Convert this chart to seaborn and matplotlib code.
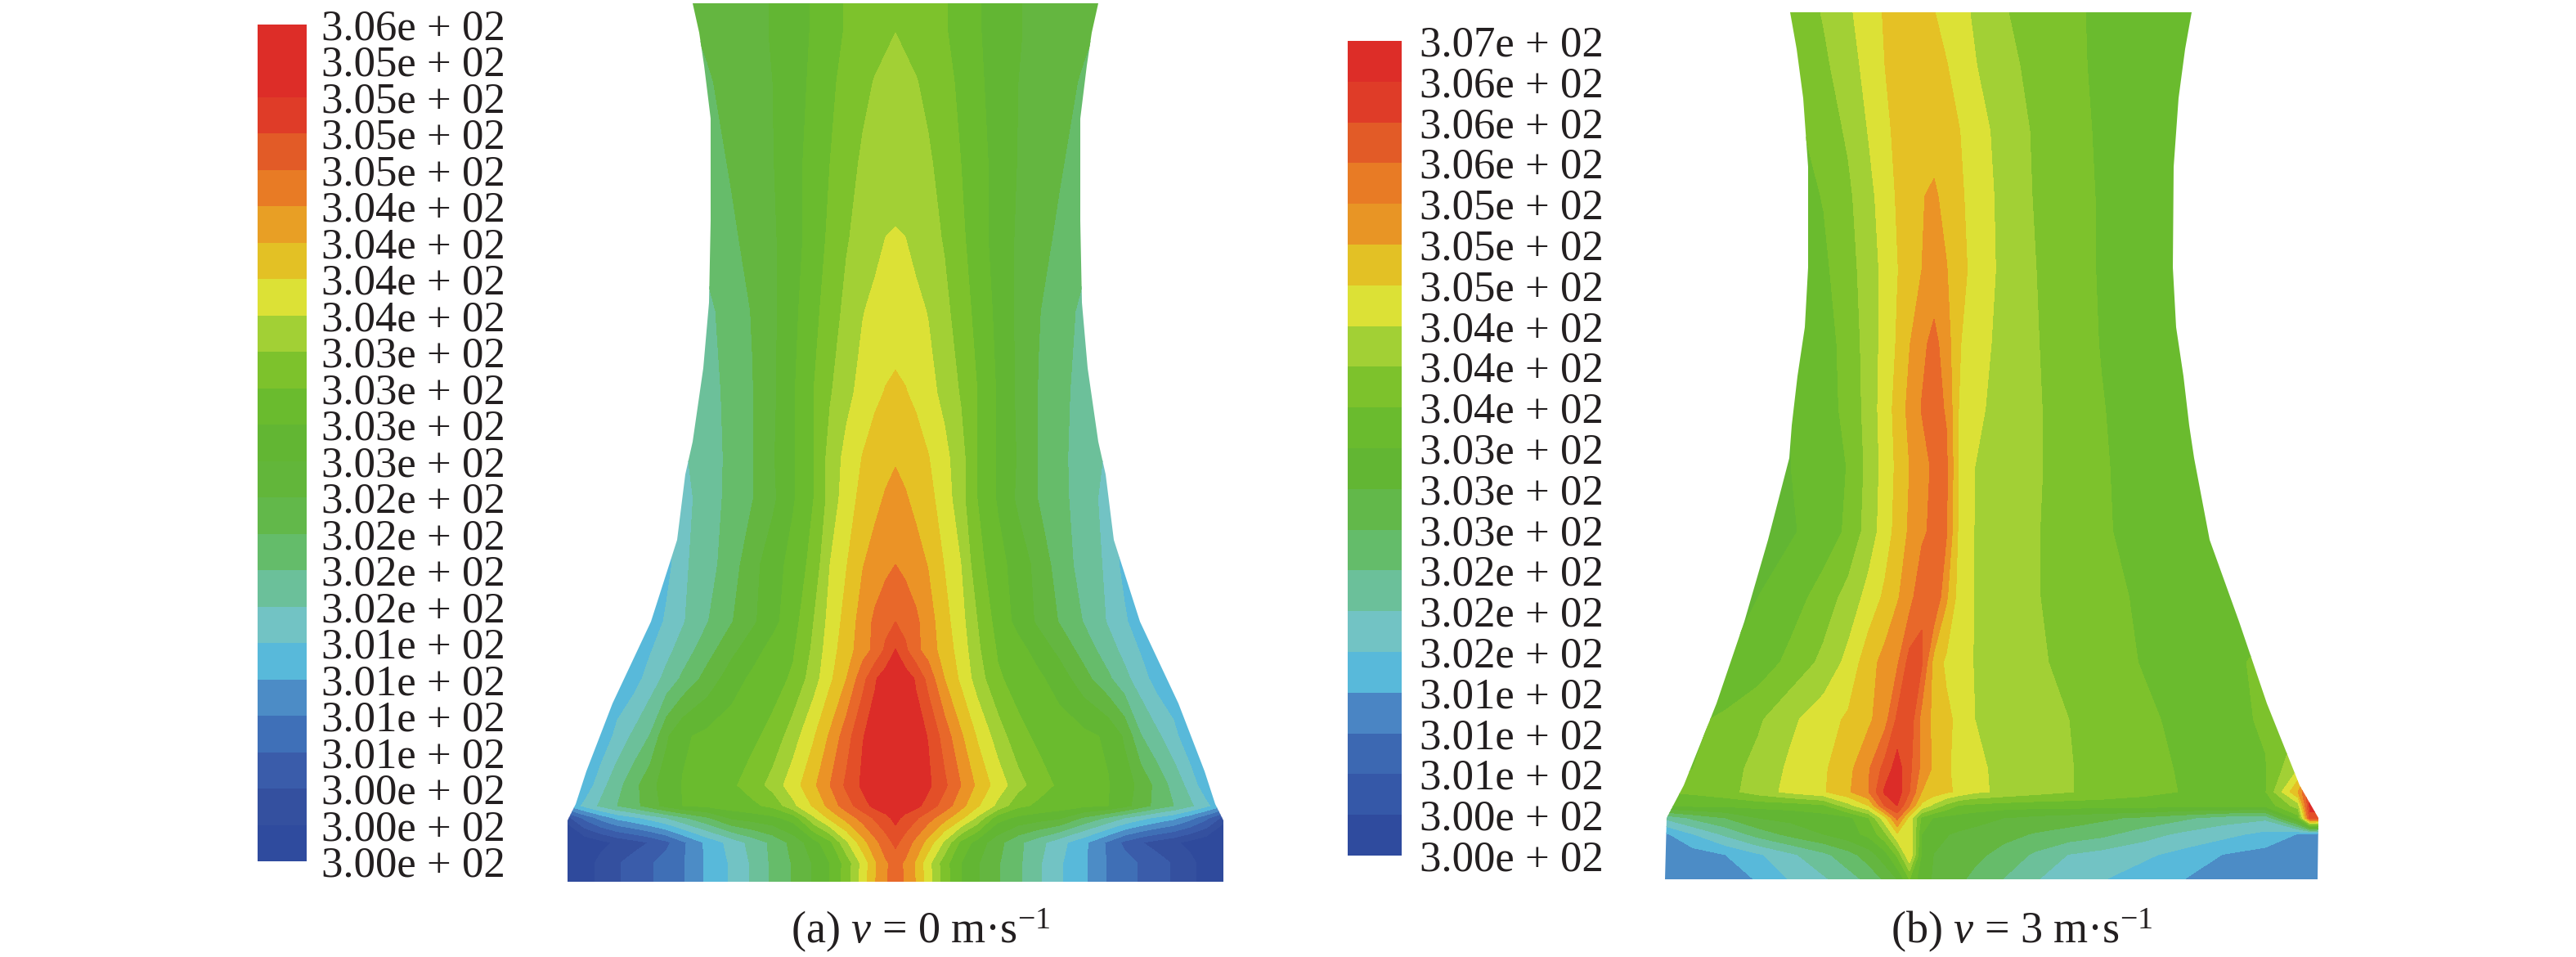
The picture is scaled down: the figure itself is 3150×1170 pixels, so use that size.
"""Temperature contours of the tower at v = 0 and v = 3 m/s"""
import numpy as np
import seaborn as sns
import matplotlib
matplotlib.use('Agg')
import matplotlib.pyplot as plt
from matplotlib.colors import ListedColormap
from matplotlib.patches import Polygon

# colour bars, top to bottom
labels_a = ['3.06e + 02'] + ['3.05e + 02'] * 4 + ['3.04e + 02'] * 4 + ['3.03e + 02'] * 4 \
    + ['3.02e + 02'] * 4 + ['3.01e + 02'] * 4 + ['3.00e + 02'] * 3
labels_b = ['3.07e + 02'] + ['3.06e + 02'] * 3 + ['3.05e + 02'] * 3 + ['3.04e + 02'] * 3 \
    + ['3.03e + 02'] * 3 + ['3.02e + 02'] * 3 + ['3.01e + 02'] * 3 + ['3.00e + 02'] * 2
bar_a = ['#DD2D28', '#DD2D28', '#DF3C28', '#E25B27', '#E87B25', '#E89F25', '#E3C125', '#DCE136',
         '#A2D035', '#7DC22C', '#6ABB2E', '#62B633', '#62B63A', '#62B84A', '#64BC6A', '#6BC09A',
         '#72C3C4', '#58B9DA', '#4C8CC6', '#3F70B8', '#3A5CAA', '#34509F', '#2F4B9E']
bar_b = ['#DD2D28', '#DF3C28', '#E25B27', '#E87B25', '#E89525', '#E3C125', '#DCE136', '#A2D035',
         '#7DC22C', '#6ABB2E', '#62B633', '#62B84A', '#64BC6A', '#6BC09A', '#72C3C4', '#58B9DA',
         '#4A85C4', '#3C68B2', '#3558A8', '#2F4B9E']

# colours of the field bands, coolest first
bands = ['#2F4A9C', '#2F4A9C', '#34509F', '#3A5CAA', '#3F6FB6', '#4C8CC6', '#58B9DA', '#72C3C4',
         '#6CC09A', '#66BC6A', '#64B640', '#62B633', '#6ABB2E', '#7DC22C', '#A2D035', '#DCE136',
         '#E5C125', '#EB9326', '#E8682A', '#E34F28', '#DC2C28']

# case a: symmetric, band value by height and distance from the axis
a_axis = 1095
a_y = [0, 40, 100, 200, 290, 380, 480, 560, 610, 690, 760, 795, 830, 900, 960, 985, 1000, 1030, 1055, 1080]
a_dist = [0, 12, 25, 40, 60, 80, 100, 125, 150, 175, 200, 230, 260, 280, 300, 320, 340, 360, 380, 410]
a_field = [
    [13.85, 13.7, 13.5, 13.4, 13.08, 12.6, 12.1, 11.6, 11.05, 10.8, 10.5, 10.2, 9.9, 9.7, 9.5, 9.25, 9, 8.75, 8.5, 8],
    [14.0, 13.85, 13.65, 13.45, 13.1, 12.6, 12.1, 11.6, 11.05, 10.8, 10.5, 10.15, 9.8, 9.65, 9.5, 9.25, 9, 8.75, 8.5, 8],
    [14.3, 14.2, 14.05, 13.75, 13.3, 12.8, 12.2, 11.6, 11.0, 10.65, 10.3, 9.9, 9.5, 9.25, 9, 8.75, 8.5, 8.25, 8, 8],
    [14.7, 14.55, 14.35, 14.15, 13.6, 13, 12.4, 11.65, 10.95, 10.5, 10.1, 9.6, 9.2, 9, 8.8, 8.6, 8.4, 8.2, 8, 8],
    [15.05, 15.0, 14.7, 14.4, 13.9, 13.2, 12.45, 11.6, 10.85, 10.3, 9.85, 9.35, 8.85, 8.6, 8.4, 8.2, 8, 8, 8, 8],
    [15.6, 15.45, 15.25, 14.95, 14.25, 13.5, 12.7, 11.75, 10.8, 10.05, 9.5, 8.75, 7.6, 7.3, 7, 6.5, 6.2, 6.2, 6.2, 6.2],
    [16.15, 16.05, 15.8, 15.35, 14.7, 13.9, 13, 11.9, 10.8, 9.95, 9.4, 8.5, 7.6, 7.3, 7, 6.5, 6.2, 6.2, 6.2, 6.2],
    [16.9, 16.7, 16.45, 16.05, 15.3, 14.35, 13, 11.9, 10.9, 9.95, 9.25, 8.55, 7.85, 7.3, 6.5, 6.2, 6.2, 6.2, 6.2, 6.2],
    [17.35, 17.1, 16.75, 16.3, 15.55, 14.35, 13, 11.9, 10.8, 9.95, 9.3, 8.55, 7.6, 7, 6.5, 6.2, 6.2, 6.2, 6.2, 6.2],
    [18.0, 17.75, 17.4, 16.95, 15.95, 15, 13.35, 12.35, 11.55, 10.65, 9.55, 8.6, 7.8, 6.6, 6.2, 6.2, 6.2, 6.2, 6.2, 6.2],
    [19.0, 18.65, 18.2, 17.45, 16.35, 15.35, 14, 12.6, 11.7, 10.8, 9.95, 8.95, 7.9, 7.2, 6.2, 6.1, 6.1, 6.1, 6.1, 6.1],
    [20.05, 19.2, 18.25, 17.6, 16.5, 15.6, 14.2, 12.9, 12.35, 11.6, 10.75, 9.6, 8.45, 7.7, 6.9, 6.1, 6.1, 6.1, 6.1, 6.1],
    [20.8, 20.5, 19.9, 18.65, 17, 15.8, 14.55, 13.15, 12.6, 12.2, 11.55, 10.4, 9.2, 8.3, 7.45, 6.55, 6.1, 6.1, 6.1, 6.1],
    [20.95, 20.7, 20.4, 19.95, 18.55, 17.15, 15.9, 14.55, 13.3, 12.8, 12.55, 12.25, 11.85, 10.85, 9.05, 8.2, 7.35, 6.15, 6.1, 6.1],
    [20.95, 20.85, 20.6, 20.2, 19.2, 18, 16.8, 15.55, 14.4, 13.4, 12.85, 12.4, 12.05, 11.45, 10.7, 9.65, 8.65, 7.65, 6.25, 6.1],
    [20.9, 20.6, 20.3, 19.6, 18.55, 17.35, 16.15, 14.75, 13.25, 12.8, 12.55, 12.25, 12, 11.35, 10.5, 9.65, 9, 8.2, 7.25, 5.5],
    [20.3, 19.7, 19.15, 18.4, 17.35, 16.25, 14.8, 12.4, 11.75, 11.45, 11.15, 9.85, 8.8, 8, 7.35, 6.75, 6.25, 5.35, 4.25, 2],
    [19.25, 18.55, 17.7, 16.6, 14.8, 12.75, 11.6, 10.35, 9.25, 8.35, 7.4, 6.25, 4.8, 3.75, 3.05, 2.6, 2.2, 1.7, 1.2, 0.8],
    [18.4, 17.85, 16.85, 15.35, 13.4, 12, 11.1, 10.1, 9.2, 8.15, 7.15, 6.2, 4.9, 4.4, 3.9, 3.4, 2.9, 2.3, 1.5, 1],
    [18.4, 17.9, 16.95, 15.5, 13.5, 12.05, 11.1, 10.1, 9.2, 8.15, 7.15, 6.2, 4.9, 4.4, 3.9, 3.4, 2.9, 2.3, 1.5, 1],
]
a_edge_y = [4, 40, 80, 145, 270, 370, 450, 540, 580, 660, 760, 860, 943, 983, 1003, 1078]
a_edge_half = [248, 240, 234, 226, 226, 228, 235, 248, 257, 267, 299, 346, 378, 391, 401, 401]

# case b: plume leans with the wind, band value by height and position
b_y = [10, 80, 160, 240, 330, 420, 500, 570, 650, 730, 810, 880, 940, 968, 985, 1000, 1020, 1045, 1080]
b_x = [2030, 2070, 2110, 2150, 2190, 2230, 2260, 2285, 2305, 2320, 2335, 2350, 2365, 2380,
       2395, 2415, 2450, 2490, 2530, 2570, 2620, 2670, 2720, 2770, 2810, 2825, 2840]
b_field = [
    [13.3, 13.3, 13.3, 13.3, 13.3, 14.1, 14.85, 15.55, 16.1, 16.35, 16.45, 16.2, 16, 15.6, 15.3, 14.85, 14.05, 13.65, 13.2, 12.8, 12.5, 12.2, 12, 12, 12, 12, 12],
    [13, 13, 13, 13, 13.1, 13.8, 14.55, 15.35, 16, 16.3, 16.55, 16.5, 16.3, 16.05, 15.6, 15.05, 14.3, 13.7, 13.25, 12.8, 12.5, 12.2, 12, 12, 12, 12, 12],
    [12.5, 12.5, 12.5, 12.5, 12.7, 13.45, 14.15, 15.05, 15.8, 16.2, 16.5, 16.7, 16.6, 16.35, 16.05, 15.45, 14.6, 13.85, 13.35, 12.85, 12.5, 12.2, 12, 12, 12, 12, 12],
    [12.5, 12.5, 12.5, 12.5, 12.5, 13.05, 13.8, 14.7, 15.5, 16.1, 16.5, 16.95, 17.15, 16.7, 16.2, 15.6, 14.7, 13.9, 13.4, 12.9, 12.5, 12.2, 12, 12, 12, 12, 12],
    [12.3, 12.3, 12.3, 12.3, 12.3, 12.8, 13.6, 14.5, 15.3, 15.95, 16.5, 17, 17.4, 17.05, 16.4, 15.65, 14.75, 14, 13.45, 12.9, 12.5, 12.2, 12, 12, 12, 12, 12],
    [12.2, 12.2, 12.2, 12.2, 12.2, 12.6, 13.35, 14.45, 15.35, 16.1, 16.95, 17.75, 18.3, 17.5, 16.1, 15.4, 14.7, 14.05, 13.5, 12.95, 12.5, 12.2, 12, 12, 12, 12, 12],
    [12, 12, 12, 12, 12, 12.6, 13.25, 14.4, 15.5, 16.35, 17.3, 18.05, 18.4, 17.9, 16, 15.2, 14.65, 14.1, 13.55, 13.05, 12.5, 12.2, 12, 12, 12, 12, 12],
    [12, 12, 12, 12, 12, 12.4, 13.05, 14.3, 15.4, 16.2, 17, 17.6, 18.2, 18.2, 16, 15, 14.6, 14.1, 13.6, 13.1, 12.6, 12.2, 12, 12, 12, 12, 12],
    [12, 12, 12, 12, 11.9, 12.4, 13.2, 14.45, 15.5, 16.35, 17.15, 17.75, 18.35, 18.1, 15.85, 14.95, 14.55, 14.05, 13.6, 13.15, 12.6, 12.3, 12.1, 12, 12, 12, 12],
    [12, 12, 12, 12, 12.5, 13.45, 14.35, 15.35, 16.2, 16.9, 17.55, 18.9, 19, 17.15, 15.65, 14.95, 14.55, 14.05, 13.65, 13.3, 12.85, 12.5, 12.2, 12.4, 12.6, 12.6, 12.6],
    [12, 12, 12, 12.4, 13.3, 14.25, 15.3, 16.6, 17.35, 17.85, 19.4, 19.1, 16.6, 15.8, 15.4, 14.95, 14.55, 14.15, 13.75, 13.4, 12.95, 12.6, 12.4, 13.5, 14, 14, 14],
    [12.6, 12.8, 13.2, 13.85, 14.8, 15.6, 16.15, 16.8, 17.65, 19.2, 19.7, 17.6, 16.75, 16.25, 15.75, 15, 14.7, 14.35, 14, 13.65, 13.2, 12.75, 12.5, 13.2, 14, 14, 14],
    [12.8, 13, 13.6, 14.3, 15.2, 15.85, 16.7, 17.9, 19.4, 20.5, 19.25, 17.7, 16.8, 16.15, 15.7, 15.2, 14.75, 14.4, 14.05, 13.7, 13.3, 12.9, 12.6, 12.9, 15, 17, 18],
    [13, 13.2, 13.6, 14.5, 15.3, 15.9, 16.85, 18, 20.2, 20.6, 19, 17, 16.6, 16.2, 15.8, 15.2, 14.8, 14.4, 14.05, 13.7, 13.3, 12.95, 12.6, 12.9, 17, 20, 20],
    [12, 12.2, 12.2, 12.3, 12.4, 12.8, 14.6, 16, 19.1, 20, 18, 15.7, 14.7, 13.7, 12.9, 12.7, 12.5, 12.4, 12.4, 12.4, 12.4, 12.3, 12.3, 12.3, 14.5, 20.5, 20.5],
    [8, 9.2, 10, 11, 11.3, 11.5, 11.7, 13, 15.7, 18.3, 15.6, 12.8, 11.9, 11.7, 11.6, 11.4, 11, 10.7, 10.5, 10.2, 9.8, 9.2, 8.5, 8.2, 12.5, 19.5, 19.5],
    [5.6, 6.95, 8.2, 9.4, 10.3, 11, 11.6, 12.25, 13.75, 15.85, 16, 12, 11.5, 11.05, 10.85, 10.65, 10.3, 9.9, 9.6, 9.25, 8.45, 7.75, 7.3, 6.7, 5.95, 5.6, 5.4],
    [5, 5.5, 6, 6.85, 7.8, 8.75, 9.6, 10.5, 11.6, 13.2, 16, 11.85, 10.95, 10.75, 10.55, 10.25, 9.65, 8.8, 7.95, 7.6, 7.2, 6.65, 5.95, 5.6, 5.4, 5.3, 5.2],
    [5.1, 5.3, 5.6, 6, 6.95, 7.7, 8.4, 9.1, 9.95, 10.65, 12.5, 11.55, 10.8, 10.45, 10.1, 9.65, 8.85, 7.95, 7.45, 6.95, 6.4, 5.9, 5.6, 5.4, 5.3, 5.2, 5.2],
]
b_edge_y = [15, 60, 120, 204, 327, 400, 460, 520, 560, 660, 760, 860, 960, 1000, 1075]
b_edge_left = [2189, 2197, 2205, 2211, 2211, 2207, 2198, 2191, 2188, 2162, 2133, 2099, 2059, 2038, 2036]
b_edge_right = [2680, 2672, 2664, 2658, 2657, 2661, 2670, 2677, 2683, 2702, 2738, 2772, 2812, 2835, 2834]

sns.set_theme(style='white')
plt.rcParams['font.family'] = ['Liberation Serif', 'DejaVu Serif']
plt.rcParams['mathtext.fontset'] = 'custom'
plt.rcParams['mathtext.rm'] = 'Liberation Serif'
plt.rcParams['mathtext.it'] = 'Liberation Serif:italic'

W, H = 3150, 1170
fig = plt.figure(figsize=(W / 200, H / 200), dpi=200)
ax = fig.add_axes([0, 0, 1, 1])
ax.set_xlim(0, W)
ax.set_ylim(H, 0)
ax.axis('off')


def draw_bar(colors, labels, left, right, top, bottom, pad):
    bar = fig.add_axes([left / W, 1 - bottom / H, (right - left) / W, (bottom - top) / H])
    cells = np.arange(len(colors))[:, None]
    sns.heatmap(cells, ax=bar, cmap=ListedColormap(colors), cbar=False, xticklabels=False)
    bar.yaxis.tick_right()
    bar.set_yticks(np.arange(len(labels)))
    bar.set_yticklabels(labels, rotation=0, fontsize=19, color='#231F20', va='center_baseline')
    bar.tick_params(axis='y', length=0, pad=pad)


def draw_field(x, y, z, outline):
    cs = ax.contourf(x, y, np.clip(z, 0, 20.99), levels=np.arange(22), colors=bands)
    cs.set_clip_path(Polygon(outline, closed=True, transform=ax.transData))


# case a
draw_bar(bar_a, labels_a, 315, 375, 30, 1053, 6.5)
a_half = np.array(a_field)
a_full = np.hstack([a_half[:, :0:-1], a_half])
a_d = np.array(a_dist)
a_xs = np.concatenate([a_axis - a_d[:0:-1], a_axis + a_d])
a_h = np.array(a_edge_half)
a_ey = np.array(a_edge_y)
a_outline = np.vstack([np.column_stack([a_axis - a_h, a_ey]),
                       np.column_stack([a_axis + a_h, a_ey])[::-1]])
draw_field(a_xs, a_y, a_full, a_outline)

# case b
draw_bar(bar_b, labels_b, 1648, 1714, 50, 1046, 8)
b_outline = np.vstack([np.column_stack([b_edge_left, b_edge_y]),
                       np.column_stack([b_edge_right, b_edge_y])[::-1]])
draw_field(b_x, b_y, np.array(b_field), b_outline)

ax.text(1126, 1153, r'(a) $\mathit{v}$ = 0 m·s$^{-1}$', fontsize=19.5, color='#231F20', ha='center', va='baseline')
ax.text(2472, 1153, r'(b) $\mathit{v}$ = 3 m·s$^{-1}$', fontsize=19.5, color='#231F20', ha='center', va='baseline')

fig.savefig('out.png', dpi=200)
